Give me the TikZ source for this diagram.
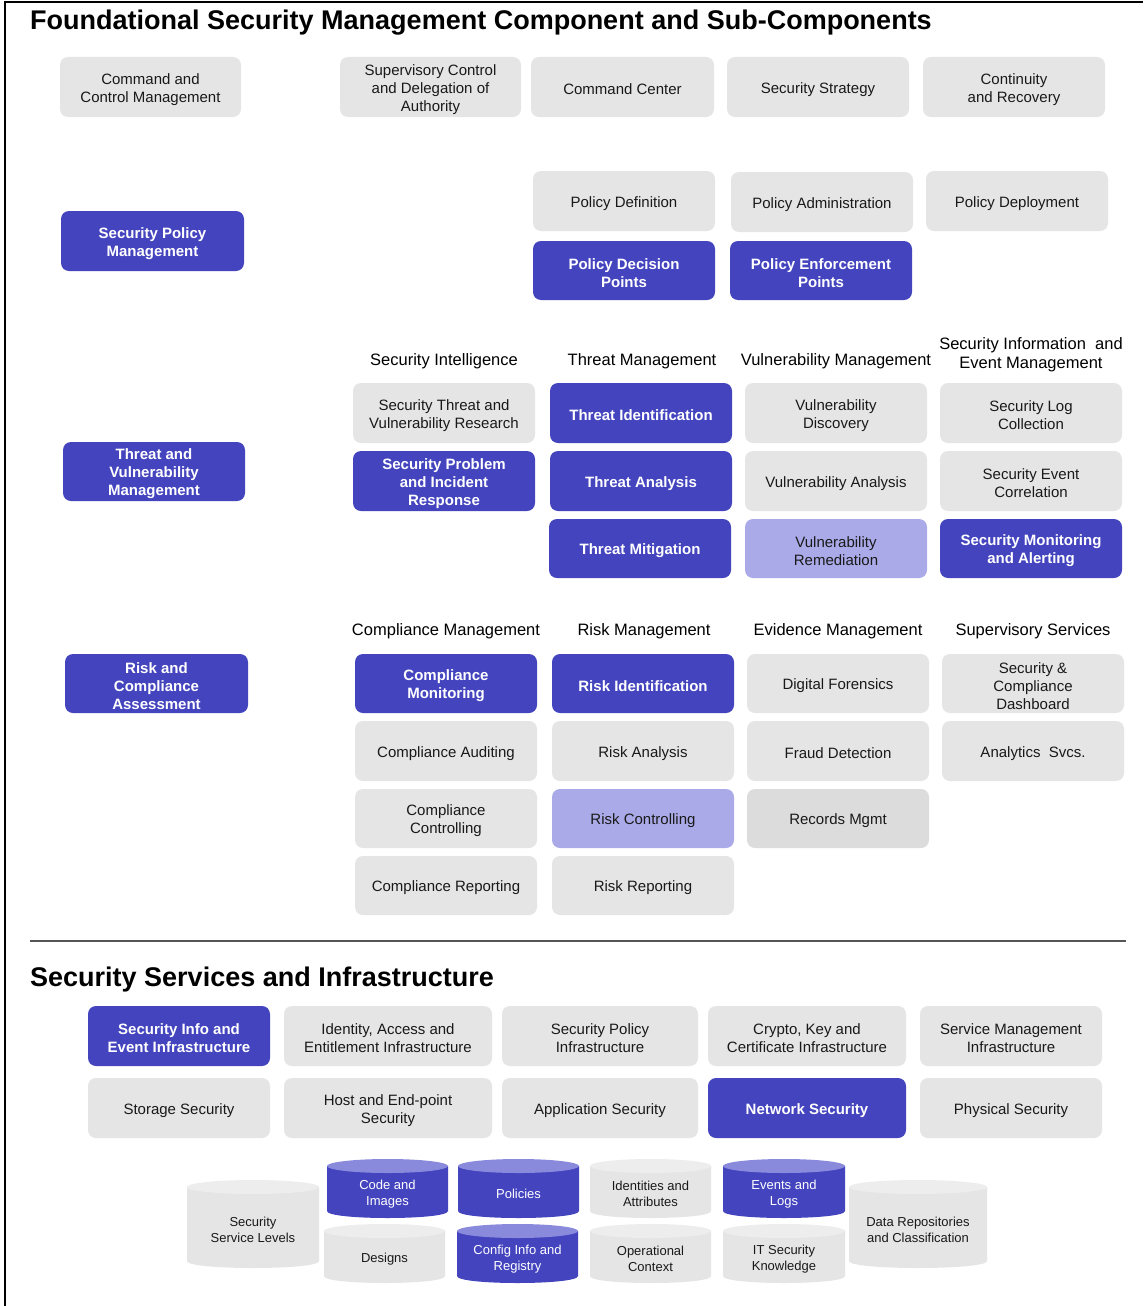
\documentclass[tikz,border=0pt]{standalone}
\usepackage{fontspec}
\setmainfont{Liberation Sans}
\definecolor{fsblue}{HTML}{4444BF}
\definecolor{fsbluetop}{HTML}{8A8ADC}
\definecolor{fslight}{HTML}{AAAAE9}
\definecolor{fsgray}{HTML}{E5E5E5}
\definecolor{fsgraytop}{HTML}{EDEDED}
\definecolor{fsgraydk}{HTML}{DCDCDC}
\definecolor{fsline}{HTML}{555555}

\tikzset{
  cellbase/.style={rounded corners=8pt, inner sep=0pt},
  celltext/.style={inner sep=0pt, align=center, font=\fontsize{15}{18}\selectfont, text=black!90},
  graybox/.style={cellbase, fill=fsgray},
  graydkbox/.style={cellbase, fill=fsgraydk},
  bluebox/.style={cellbase, fill=fsblue},
  lightbox/.style={cellbase, fill=fslight},
  graytext/.style={celltext},
  graydktext/.style={celltext},
  lighttext/.style={celltext},
  bluetext/.style={celltext, text=white, font=\fontsize{15}{18}\selectfont\bfseries},
  colhead/.style={align=center, font=\fontsize{16.5}{19}\selectfont, text=black},
  sectitle/.style={anchor=base west, inner sep=0pt, font=\fontsize{27}{30}\selectfont\bfseries, text=black},
  cyltext/.style={align=center, font=\fontsize{13}{16}\selectfont, inner sep=0pt},
}

% rounded cell from its corners: name, kind (gray/graydk/blue/light), x1, y1, x2, y2, text
\newcommand\cell[7]{%
  \node[#2box, minimum width={(#5)-(#3)}, minimum height={(#6)-(#4)}]
    (#1) at ({((#3)+(#5))/2},{((#4)+(#6))/2}) {};
  \node[#2text] (#1-t) at ([yshift=-2.3pt]#1.center) {#7};}

% data store drawn as a cylinder: name, body colour, top colour, text colour, x1, ytop, x2, ybottom, text
\newcommand\store[9]{%
  \fill[#2] (#5,{#6+7}) -- (#5,{#8-7})
     .. controls (#5,{#8+2.33}) and (#7,{#8+2.33}) .. (#7,{#8-7})
     -- (#7,{#6+7}) -- cycle;
  \fill[#3] ({((#5)+(#7))/2},{#6+7}) ellipse [x radius={((#7)-(#5))/2}, y radius=7];
  \node[cyltext, text=#4] (#1) at ({((#5)+(#7))/2},{((#6)+(#8))/2+5.5}) {#9};}

\begin{document}
\begin{tikzpicture}[x=1pt, y=-1pt]
\useasboundingbox (0,0) rectangle (1143,1306);
\fill[white] (0,0) rectangle (1143,1306);

% frame
\draw[line width=2pt, black] (5,1306) -- (5,2) -- (1143,2);

% ---------- Foundational Security Management ----------
\node[sectitle] (title1) at (30,30) {Foundational Security Management Component and Sub-Components};

\cell{ccm}{gray}{60}{57}{241}{117}{Command and\\Control Management}
\cell{scda}{gray}{340}{57}{521}{117}{Supervisory Control\\and Delegation of\\Authority}
\cell{cmdc}{gray}{531}{57}{714}{117}{Command Center}
\cell{sstr}{gray}{727}{57}{909}{117}{Security Strategy}
\cell{cont}{gray}{923}{57}{1105}{117}{Continuity\\and Recovery}

\cell{spm}{blue}{61}{211}{244}{271}{Security Policy\\Management}
\cell{pdef}{gray}{533}{171}{715}{231}{Policy Definition}
\cell{padm}{gray}{731}{172}{913}{232}{Policy Administration}
\cell{pdep}{gray}{926}{171}{1108}{231}{Policy Deployment}
\cell{pdp}{blue}{533}{241}{715}{300}{Policy Decision\\Points}
\cell{pep}{blue}{730}{241}{912}{300}{Policy Enforcement\\Points}

% threat and vulnerability
\node[colhead] (hsi) at (444,361) {Security Intelligence};
\node[colhead] (htm) at (642,361) {Threat Management};
\node[colhead] (hvm) at (836,361) {Vulnerability Management};
\node[colhead] (hsiem) at (1031,355) {Security Information\ \ and\\Event Management};

\cell{tvm}{blue}{63}{442}{245}{501}{Threat and\\Vulnerability\\Management}
\cell{stvr}{gray}{353}{383}{535}{443}{Security Threat and\\Vulnerability Research}
\cell{spir}{blue}{353}{451}{535}{511}{Security Problem\\and Incident\\Response}
\cell{tid}{blue}{550}{383}{732}{443}{Threat Identification}
\cell{tan}{blue}{550}{451}{732}{511}{Threat Analysis}
\cell{tmit}{blue}{549}{519}{731}{578}{Threat Mitigation}
\cell{vdis}{gray}{745}{383}{927}{443}{Vulnerability\\Discovery}
\cell{van}{gray}{745}{451}{927}{511}{Vulnerability Analysis}
\cell{vrem}{light}{745}{519}{927}{578}{Vulnerability\\Remediation}
\cell{slc}{gray}{940}{383}{1122}{443}{Security Log\\Collection}
\cell{sec}{gray}{940}{451}{1122}{511}{Security Event\\Correlation}
\cell{sma}{blue}{940}{519}{1122}{578}{Security Monitoring\\and Alerting}

% risk and compliance
\node[colhead] (hcm) at (446,631) {Compliance Management};
\node[colhead] (hrm) at (644,631) {Risk Management};
\node[colhead] (hem) at (838,631) {Evidence Management};
\node[colhead] (hss) at (1033,631) {Supervisory Services};

\cell{rca}{blue}{65}{654}{248}{713}{Risk and\\Compliance\\Assessment}
\cell{cmon}{blue}{355}{654}{537}{713}{Compliance\\Monitoring}
\cell{caud}{gray}{355}{721}{537}{781}{Compliance Auditing}
\cell{cctl}{gray}{355}{789}{537}{848}{Compliance\\Controlling}
\cell{crep}{gray}{355}{856}{537}{915}{Compliance Reporting}
\cell{rid}{blue}{552}{654}{734}{713}{Risk Identification}
\cell{ran}{gray}{552}{721}{734}{781}{Risk Analysis}
\cell{rctl}{light}{552}{789}{734}{848}{Risk Controlling}
\cell{rrep}{gray}{552}{856}{734}{915}{Risk Reporting}
\cell{dfor}{gray}{747}{654}{929}{713}{Digital Forensics}
\cell{fdet}{gray}{747}{721}{929}{781}{Fraud Detection}
\cell{rmgt}{graydk}{747}{789}{929}{848}{Records Mgmt}
\cell{scd}{gray}{942}{654}{1124}{713}{Security \&\\Compliance\\Dashboard}
\cell{asv}{gray}{942}{721}{1124}{781}{Analytics\ \ Svcs.}

% separator
\coordinate (sepL) at (30,941);
\coordinate (sepR) at (1126,941);
\draw[fsline, line width=1.6pt] (sepL) -- (sepR);

% ---------- Security Services and Infrastructure ----------
\node[sectitle] (title2) at (30,986) {Security Services and Infrastructure};

\cell{siei}{blue}{88}{1006}{270}{1066}{Security Info and\\Event Infrastructure}
\cell{iaei}{gray}{284}{1006}{492}{1066}{Identity, Access and\\Entitlement Infrastructure}
\cell{spi}{gray}{502}{1006}{698}{1066}{Security Policy\\Infrastructure}
\cell{ckci}{gray}{708}{1006}{906}{1066}{Crypto, Key and\\Certificate Infrastructure}
\cell{smi}{gray}{920}{1006}{1102}{1066}{Service Management\\Infrastructure}
\cell{stos}{gray}{88}{1078}{270}{1138}{Storage Security}
\cell{hes}{gray}{284}{1078}{492}{1138}{Host and End-point\\Security}
\cell{apps}{gray}{502}{1078}{698}{1138}{Application Security}
\cell{nets}{blue}{708}{1078}{906}{1138}{Network Security}
\cell{phys}{gray}{920}{1078}{1102}{1138}{Physical Security}

% data stores
\store{ssl}{fsgray}{fsgraytop}{black!90}{187}{1180}{319}{1268}{Security\\Service Levels}
\store{cimg}{fsblue}{fsbluetop}{white}{327}{1159}{448}{1218}{Code and\\Images}
\store{pols}{fsblue}{fsbluetop}{white}{458}{1159}{579}{1218}{Policies}
\store{idat}{fsgray}{fsgraytop}{black!90}{590}{1159}{711}{1218}{Identities and\\Attributes}
\store{evlg}{fsblue}{fsbluetop}{white}{723}{1159}{845}{1218}{Events and\\Logs}
\store{dsgn}{fsgray}{fsgraytop}{black!90}{324}{1224}{445}{1283}{Designs}
\store{cfgr}{fsblue}{fsbluetop}{white}{457}{1224}{578}{1283}{Config Info and\\Registry}
\store{opct}{fsgray}{fsgraytop}{black!90}{590}{1224}{711}{1283}{Operational\\Context}
\store{itsk}{fsgray}{fsgraytop}{black!90}{723}{1224}{845}{1283}{IT Security\\Knowledge}
\store{drc}{fsgray}{fsgraytop}{black!90}{849}{1180}{987}{1268}{Data Repositories\\and Classification}
\end{tikzpicture}
\end{document}
